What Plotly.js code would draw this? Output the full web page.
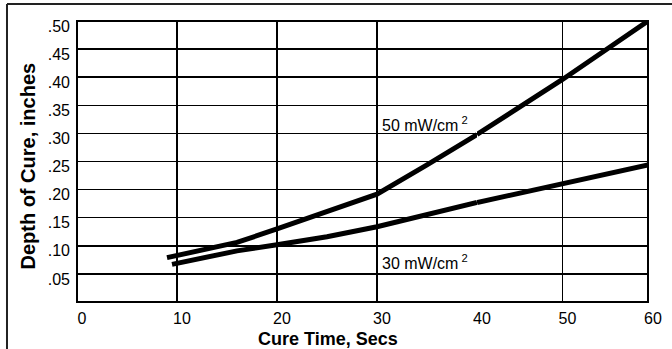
<!DOCTYPE html>
<html>
<head>
<meta charset="utf-8">
<script src="https://cdn.plot.ly/plotly-3.0.1.min.js"></script>
<style>html,body{margin:0;padding:0;background:#fff;}#chart{width:672px;height:349px;}</style>
</head>
<body>
<div id="chart"></div>
<script>
// Data
const seriesNames = ["50 mW/cm<sup> 2</sup>", "30 mW/cm<sup> 2</sup>"];
const time50 = [9, 12, 16, 20, 25, 30, 35, 40, 45, 50, 55, 60];
const depth50 = [0.079, 0.090, 0.106, 0.130, 0.161, 0.192, 0.244, 0.298, 0.346, 0.396, 0.448, 0.500];
const time30 = [9.5, 12, 16, 20, 25, 30, 35, 40, 45, 50, 55, 60];
const depth30 = [0.067, 0.076, 0.091, 0.102, 0.116, 0.134, 0.156, 0.177, 0.194, 0.210, 0.227, 0.244];
const xTickVals = [0, 10, 20, 30, 40, 50, 60];
const xTickText = ["0", "10", "20", "30", "40", "50", "60"];
const yTickVals = [0.05, 0.10, 0.15, 0.20, 0.25, 0.30, 0.35, 0.40, 0.45, 0.50];
const yTickText = [".05", ".10", ".15", ".20", ".25", ".30", ".35", ".40", ".45", ".50"];
const xTitle = "Cure Time, Secs";
const yTitle = "Depth of Cure, inches";

// The scanned original compresses the 40-60 s span; use two joined x axes.
const SPLIT = 40;
function part(xs, ys, lowSide) {
  const px = [], py = [];
  xs.forEach((x, i) => {
    if (lowSide ? x <= SPLIT : x >= SPLIT) { px.push(x); py.push(ys[i]); }
  });
  return {x: px, y: py};
}
const lineStyle = {color: "#000", width: 5};
const traces = [];
[[time50, depth50], [time30, depth30]].forEach(([xs, ys], k) => {
  const a = part(xs, ys, true), b = part(xs, ys, false);
  traces.push({x: a.x, y: a.y, xaxis: "x", yaxis: "y", mode: "lines", line: lineStyle, name: seriesNames[k], hoverinfo: "skip"});
  traces.push({x: b.x, y: b.y, xaxis: "x2", yaxis: "y", mode: "lines", line: lineStyle, name: seriesNames[k], hoverinfo: "skip"});
});

const font = {family: "Liberation Sans, Arial, sans-serif", size: 16, color: "#000"};
const bold = {family: "Liberation Sans, Arial, sans-serif", size: 20, color: "#000", weight: "bold"};
const boldX = {family: "Liberation Sans, Arial, sans-serif", size: 18, color: "#000", weight: "bold"};
const split = 0.7005;
const gridCommon = {showgrid: true, gridcolor: "#000", gridwidth: 1.5, zeroline: false, showline: false, ticks: "", tickfont: font, ticklabelshift: 5, ticklabelstandoff: 5, fixedrange: true};

const layout = {
  width: 672, height: 349,
  margin: {l: 77, r: 24, t: 21, b: 47, pad: 0},
  paper_bgcolor: "#fff", plot_bgcolor: "#fff",
  showlegend: false,
  font: font,
  xaxis: Object.assign({}, gridCommon, {domain: [0, split], range: [0, SPLIT], anchor: "y",
    tickmode: "array", tickvals: xTickVals.filter(v => v <= SPLIT), ticktext: xTickText.filter((t, i) => xTickVals[i] <= SPLIT)}),
  xaxis2: Object.assign({}, gridCommon, {domain: [split, 1], range: [SPLIT, 60], anchor: "y",
    tickmode: "array", tickvals: xTickVals.filter(v => v > SPLIT), ticktext: xTickText.filter((t, i) => xTickVals[i] > SPLIT)}),
  yaxis: {range: [0, 0.5], domain: [0, 1], anchor: "x", showgrid: true, gridcolor: "#000", gridwidth: 1.5, zeroline: false, showline: false, ticks: "",
    tickmode: "array", tickvals: yTickVals, ticktext: yTickText, tickfont: font, ticklabelshift: 5, ticklabelstandoff: 6, fixedrange: true},
  shapes: [
    {type: "rect", xref: "paper", yref: "paper", x0: 0, x1: 1, y0: 0, y1: 1, line: {color: "#000", width: 2}, layer: "above"},
    {type: "line", xref: "paper", yref: "paper", x0: -0.1226, x1: 1.05, y0: 1.0605, y1: 1.0605, line: {color: "#222", width: 2}},
    {type: "line", xref: "paper", yref: "paper", x0: -0.1226, x1: -0.1226, y0: 1.0605, y1: -0.25, line: {color: "#222", width: 2}}
  ],
  annotations: [
    {text: xTitle, xref: "paper", yref: "paper", x: 0.44, y: -0.13, xanchor: "center", yanchor: "middle", showarrow: false, font: boldX},
    {text: yTitle, xref: "paper", yref: "paper", x: -0.0858, y: 0.482, xanchor: "center", yanchor: "middle", textangle: -90, showarrow: false, font: bold},
    {text: seriesNames[0], xref: "x", yref: "y", x: 30.3, y: 0.316, xanchor: "left", yanchor: "middle", showarrow: false, font: font},
    {text: seriesNames[1], xref: "x", yref: "y", x: 30.3, y: 0.072, xanchor: "left", yanchor: "middle", showarrow: false, font: font}
  ]
};

Plotly.newPlot("chart", traces, layout, {staticPlot: true, displayModeBar: false});
</script>
</body>
</html>
